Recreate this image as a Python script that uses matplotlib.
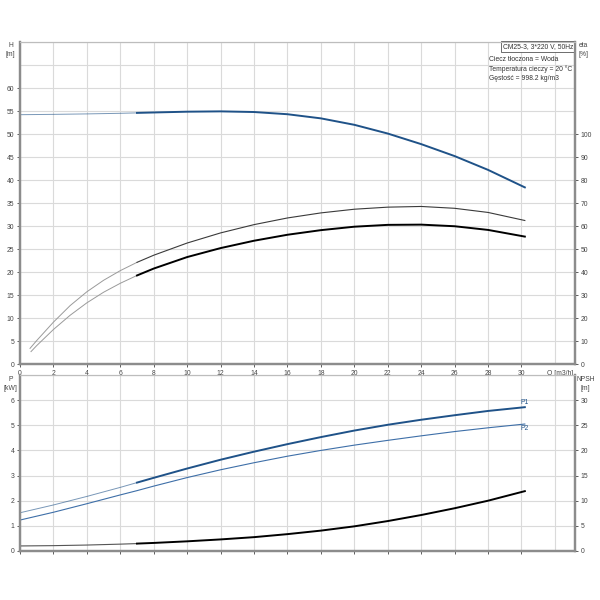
import numpy as np
import matplotlib
matplotlib.use('Agg')
import matplotlib.pyplot as plt

# pump curve H [m]
q_h = [0, 2, 4, 6, 7, 8, 10, 12, 14, 16, 18, 20, 22, 24, 26, 28, 30.2]
h = [54.2, 54.27, 54.37, 54.5, 54.59, 54.68, 54.85, 54.92, 54.78, 54.3, 53.4, 52.0,
     50.1, 47.8, 45.2, 42.2, 38.4]

# efficiency curves [%]
q_eta1 = [0.6, 1, 2, 3, 4, 5, 6, 7, 8, 10, 12, 14, 16, 18, 20, 22, 24, 26, 28, 30.2]
eta1 = [6.8, 10.2, 18.2, 25.4, 31.4, 36.4, 40.6, 44.2, 47.3, 52.6, 57.0, 60.6, 63.5,
        65.7, 67.3, 68.2, 68.5, 67.7, 65.9, 62.4]
q_eta2 = [0.66, 1, 2, 3, 4, 5, 6, 7, 8, 10, 12, 14, 16, 18, 20, 22, 24, 26, 28, 30.2]
eta2 = [5.4, 8.0, 15.0, 21.2, 26.6, 31.2, 35.1, 38.5, 41.5, 46.5, 50.4, 53.6, 56.2,
        58.2, 59.7, 60.5, 60.6, 59.9, 58.3, 55.4]

# power [kW]
q_p = [0, 2, 4, 6, 7, 8, 10, 12, 14, 16, 18, 20, 22, 24, 26, 28, 30.2]
p1 = [1.52, 1.83, 2.17, 2.53, 2.72, 2.91, 3.28, 3.63, 3.95, 4.25, 4.53, 4.79, 5.02,
      5.22, 5.40, 5.57, 5.72]
p2 = [1.23, 1.54, 1.88, 2.23, 2.40, 2.58, 2.92, 3.23, 3.51, 3.77, 4.00, 4.21, 4.40,
      4.58, 4.75, 4.90, 5.05]

# NPSH [m]
q_npsh = [0, 2, 4, 6, 7, 8, 10, 12, 14, 16, 18, 20, 22, 24, 26, 28, 30.2]
npsh = [1.0, 1.06, 1.18, 1.36, 1.47, 1.6, 1.92, 2.3, 2.75, 3.35, 4.05, 4.9, 5.95,
        7.15, 8.5, 10.0, 11.9]

q_split = 7  # start of the bold (operating) part of the curves
xticks = list(range(0, 32, 2))

blue = '#1f5288'
blue2 = '#3e6fa8'
grid_c = '#dadada'
spine_c = '#8c8c8c'
txt_c = '#444444'
fs = 4.9

plt.rcParams['font.family'] = ['Liberation Sans', 'DejaVu Sans']


def split(q, v):
    q = np.asarray(q, float)
    v = np.asarray(v, float)
    a = q <= q_split
    b = q >= q_split
    return q[a], v[a], q[b], v[b]


def style(ax, axr):
    for a in [ax, axr]:
        for key in ['left', 'right', 'bottom']:
            a.spines[key].set_color(spine_c)
            a.spines[key].set_linewidth(1.6)
        a.spines['top'].set_color('#bdbdbd')
        a.spines['top'].set_linewidth(0.8)
        a.tick_params(labelsize=fs, colors=txt_c, length=2.5, width=0.6, pad=1.5)
    ax.set_xlim(0, 33.2)
    ax.set_xticks(xticks)
    ax.set_xticks([32], minor=True)
    ax.tick_params(axis='x', which='minor', length=0)
    ax.grid(True, which='both', color=grid_c, linewidth=0.8)
    ax.set_axisbelow(True)


fig = plt.figure(figsize=[6, 6], dpi=100)
ax1 = fig.add_axes([0.0333, 0.3933, 0.925, 0.5367])
ax1r = ax1.twinx()
ax2 = fig.add_axes([0.0333, 0.0817, 0.925, 0.2933])
ax2r = ax2.twinx()

# --- top panel: H and eta
style(ax1, ax1r)
ax1.set_ylim(0, 70)
ax1.set_yticks(range(0, 65, 5))
ax1.set_yticks([65, 70], minor=True)
ax1.tick_params(axis='y', which='minor', length=0)
ax1r.set_ylim(0, 140)
ax1r.set_yticks(range(0, 110, 10))

a_q, a_v, b_q, b_v = split(q_h, h)
ax1.plot(a_q, a_v, color=blue, lw=0.7, alpha=0.6)
ax1.plot(b_q, b_v, color=blue, lw=1.4)

a_q, a_v, b_q, b_v = split(q_eta1, eta1)
ax1r.plot(a_q, a_v, color='#9a9a9a', lw=0.7)
ax1r.plot(b_q, b_v, color='#3a3a3a', lw=0.8)

a_q, a_v, b_q, b_v = split(q_eta2, eta2)
ax1r.plot(a_q, a_v, color='#9a9a9a', lw=0.7)
ax1r.plot(b_q, b_v, color='black', lw=1.4)

ax1.text(31.55, -1.3, 'Q [m3/h]', fontsize=fs, color=txt_c, ha='left', va='top')
fig.text(0.018, 0.93, 'H\n[m]', fontsize=fs, color=txt_c, ha='center', va='top',
         linespacing=1.3)
fig.text(0.973, 0.93, 'eta\n[%]', fontsize=fs, color=txt_c, ha='center', va='top',
         linespacing=1.3)
ax1.text(0.997, 0.996, 'CM25-3, 3*220 V, 50Hz', transform=ax1.transAxes, fontsize=fs,
         color='#333333', ha='right', va='top',
         bbox=dict(boxstyle='square,pad=0.3', fc='white', ec='#555555', lw=0.6))
ax1.text(0.845, 0.955, 'Ciecz tłoczona = Woda\nTemperatura cieczy = 20 °C\n'
         'Gęstość = 998.2 kg/m3', transform=ax1.transAxes, fontsize=fs,
         color='#333333', ha='left', va='top', linespacing=1.35)

# --- bottom panel: P and NPSH
style(ax2, ax2r)
ax2.set_xticklabels([])
ax2.set_ylim(0, 7)
ax2.set_yticks(range(0, 7))
ax2.set_yticks([7], minor=True)
ax2.tick_params(axis='y', which='minor', length=0)
ax2r.set_ylim(0, 35)
ax2r.set_yticks(range(0, 35, 5))

a_q, a_v, b_q, b_v = split(q_p, p1)
ax2.plot(a_q, a_v, color=blue, lw=0.7, alpha=0.6)
ax2.plot(b_q, b_v, color=blue, lw=1.4)
ax2.plot(q_p, p2, color=blue2, lw=0.8)
ax2.text(q_p[-1], p1[-1] + 0.04, 'P1', fontsize=fs, color=blue, ha='center', va='bottom')
ax2.text(q_p[-1], p2[-1] - 0.04, 'P2', fontsize=fs, color=blue, ha='center', va='top')

a_q, a_v, b_q, b_v = split(q_npsh, npsh)
ax2r.plot(a_q, a_v, color='#555555', lw=0.8)
ax2r.plot(b_q, b_v, color='black', lw=1.4)

fig.text(0.018, 0.373, 'P\n[kW]', fontsize=fs, color=txt_c, ha='center', va='top',
         linespacing=1.3)
fig.text(0.976, 0.373, 'NPSH\n[m]', fontsize=fs, color=txt_c, ha='center', va='top',
         linespacing=1.3)

plt.savefig('out.png', dpi=100, facecolor='white')
